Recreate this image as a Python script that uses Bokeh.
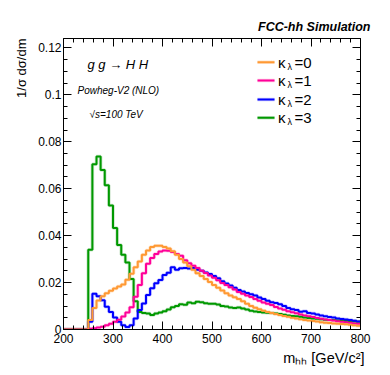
import numpy as np
from bokeh.plotting import figure
from bokeh.models import (Range1d, FixedTicker, CustomJSTickFormatter, LinearAxis,
                          Label, Title)
from bokeh.embed import file_html
from bokeh.resources import INLINE

# ---------------- data ----------------
x_min, x_max = 200.0, 800.0
n_bins = 72
bin_width = (x_max - x_min) / n_bins

labels = ["0", "1", "2", "3"]
colors = ["#FF9933", "#FF0099", "#0000FF", "#009900"]
halo = ["#FFCC99", "#FF99CC", "#9999FF", "#99CC99"]

kl0 = [0, 0, 0, 0, 0, 0,
       0.0040, 0.0092, 0.0124, 0.0142, 0.0155, 0.0165, 0.0175, 0.0183, 0.0192, 0.0212,
       0.0238, 0.0265, 0.0290, 0.0318, 0.0337, 0.0352, 0.0357, 0.0357, 0.0352, 0.0345,
       0.0333, 0.0318, 0.0300, 0.0285, 0.0270, 0.0255, 0.0240, 0.0228, 0.0215, 0.0202,
       0.0190, 0.0178, 0.0166, 0.0155, 0.0145, 0.0137, 0.0130, 0.0120, 0.0110, 0.0100,
       0.0093, 0.0086, 0.0080, 0.0075, 0.0070, 0.0066, 0.0062, 0.0058, 0.0054, 0.0050,
       0.0047, 0.0044, 0.0040, 0.0038, 0.0036, 0.0034, 0.0031, 0.0029, 0.0028, 0.0026,
       0.0024, 0.0023, 0.0022, 0.0020, 0.0018, 0.0016]
kl1 = [0, 0, 0, 0, 0, 0,
       0.0003, 0.0005, 0.0008, 0.0012, 0.0018, 0.0025, 0.0033, 0.0042, 0.0055, 0.0072,
       0.0095, 0.0140, 0.0190, 0.0240, 0.0280, 0.0305, 0.0322, 0.0332, 0.0337, 0.0336,
       0.0330, 0.0322, 0.0314, 0.0295, 0.0282, 0.0272, 0.0262, 0.0250, 0.0241, 0.0230,
       0.0220, 0.0210, 0.0198, 0.0190, 0.0180, 0.0170, 0.0160, 0.0152, 0.0145, 0.0138,
       0.0130, 0.0122, 0.0115, 0.0110, 0.0104, 0.0096, 0.0090, 0.0084, 0.0078, 0.0073,
       0.0069, 0.0064, 0.0060, 0.0056, 0.0053, 0.0049, 0.0046, 0.0043, 0.0040, 0.0038,
       0.0035, 0.0033, 0.0031, 0.0029, 0.0026, 0.0024]
kl2 = [0, 0, 0, 0, 0, 0,
       0.0033, 0.0152, 0.0142, 0.0125, 0.0097, 0.0075, 0.0051, 0.0033, 0.0018, 0.0011,
       0.0018, 0.0047, 0.0083, 0.0111, 0.0147, 0.0176, 0.0197, 0.0211, 0.0232, 0.0242,
       0.0265, 0.0255, 0.0261, 0.0262, 0.0260, 0.0262, 0.0255, 0.0250, 0.0243, 0.0236,
       0.0228, 0.0218, 0.0206, 0.0196, 0.0188, 0.0178, 0.0168, 0.0162, 0.0156, 0.0150,
       0.0145, 0.0136, 0.0130, 0.0122, 0.0116, 0.0113, 0.0108, 0.0100, 0.0092, 0.0086,
       0.0083, 0.0076, 0.0078, 0.0070, 0.0068, 0.0064, 0.0060, 0.0056, 0.0053, 0.0051,
       0.0047, 0.0045, 0.0043, 0.0040, 0.0037, 0.0034]
kl3 = [0, 0, 0, 0, 0, 0,
       0.0340, 0.0704, 0.0737, 0.0680, 0.0615, 0.0528, 0.0432, 0.0360, 0.0318, 0.0285,
       0.0215, 0.0120, 0.0075, 0.0070, 0.0068, 0.0062, 0.0068, 0.0072, 0.0078, 0.0085,
       0.0095, 0.0100, 0.0108, 0.0105, 0.0115, 0.0112, 0.0118, 0.0116, 0.0112, 0.0110,
       0.0110, 0.0106, 0.0100, 0.0098, 0.0094, 0.0092, 0.0094, 0.0090, 0.0085, 0.0080,
       0.0077, 0.0075, 0.0072, 0.0071, 0.0070, 0.0068, 0.0066, 0.0063, 0.0060, 0.0058,
       0.0056, 0.0054, 0.0051, 0.0049, 0.0047, 0.0046, 0.0044, 0.0042, 0.0040, 0.0040,
       0.0038, 0.0037, 0.0036, 0.0035, 0.0034, 0.0033]
series = [kl0, kl1, kl2, kl3]

x_ticks = [200, 300, 400, 500, 600, 700, 800]
y_ticks = [0, 0.02, 0.04, 0.06, 0.08, 0.1, 0.12]

# ---------------- layout ----------------
FONT = "Liberation Sans"
frame_l, frame_t, frame_w, frame_h = 63, 38, 297, 291  # canvas pixels
W, H = 382, 367
y_max = 0.124


def SX(px):
    return px - frame_l


def SY(py):
    return frame_t + frame_h - py


def X(px):
    return x_min + (px - frame_l) * (x_max - x_min) / frame_w


def Y(py):
    return y_max * (frame_t + frame_h - py) / frame_h


p = figure(width=W, height=H, output_backend="svg", toolbar_location=None,
           x_range=Range1d(x_min, x_max), y_range=Range1d(0, y_max),
           min_border_left=frame_l, min_border_top=frame_t,
           min_border_right=W - frame_l - frame_w,
           min_border_bottom=H - frame_t - frame_h)
p.outline_line_color = None
p.xgrid.visible = False
p.ygrid.visible = False
p.background_fill_color = "white"
p.border_fill_color = "white"

xt = FixedTicker(ticks=x_ticks, minor_ticks=list(range(200, 801, 20)))
yt = FixedTicker(ticks=y_ticks, minor_ticks=[i * 0.005 for i in range(25)])
yfmt = CustomJSTickFormatter(code="return tick == 0 ? '0' : String(+tick.toFixed(3));")
blank = CustomJSTickFormatter(code="return '';")


def style(ax, show):
    ax.axis_line_color = "black"
    ax.axis_line_width = 1
    ax.major_tick_in = 8
    ax.major_tick_out = 0
    ax.minor_tick_in = 4
    ax.minor_tick_out = 0
    ax.major_tick_line_color = "black"
    ax.minor_tick_line_color = "black"
    ax.major_label_text_font = FONT
    ax.major_label_text_font_size = "12px"
    ax.major_label_text_color = "black"
    if not show:
        ax.formatter = blank
        ax.major_label_standoff = 0


p.xaxis.ticker = xt
p.yaxis.ticker = yt
p.yaxis.formatter = yfmt
style(p.xaxis[0], True)
style(p.yaxis[0], True)
p.xaxis.major_label_standoff = 4
p.yaxis.major_label_standoff = 2

ax_r = LinearAxis(ticker=yt)
style(ax_r, False)
p.add_layout(ax_r, "right")
ax_t = LinearAxis(ticker=xt)
style(ax_t, False)
p.add_layout(ax_t, "above")

edges = x_min + bin_width * np.arange(n_bins + 1)
order = [3, 2, 1, 0]
for i in order:
    vals = list(series[i]) + [series[i][-1]]
    p.step(edges, vals, mode="after", line_color=halo[i], line_width=3.5, line_alpha=0.5)
for i in order:
    vals = list(series[i]) + [series[i][-1]]
    p.step(edges, vals, mode="after", line_color=colors[i], line_width=2)


def lab(px, py, text, size, style="normal", align="left", baseline="middle", angle=0.0):
    p.add_layout(Label(x=SX(px), y=SY(py), x_units="screen", y_units="screen", text=text,
                       text_font=FONT, text_font_size=size, text_font_style=style,
                       text_align=align, text_baseline=baseline, angle=angle,
                       text_color="black"))


# legend
rows = [61.7, 80.0, 99.0, 117.3]
for i, r in enumerate(rows):
    p.segment(x0=[X(257)], y0=[Y(r)], x1=[X(274)], y1=[Y(r)], line_color=halo[i],
              line_width=3.5, line_alpha=0.5)
    p.segment(x0=[X(257)], y0=[Y(r)], x1=[X(274)], y1=[Y(r)], line_color=colors[i], line_width=2)
    lab(277.5, r, "κ", "15px")
    lab(287, r + 4.5, "λ", "9px")
    lab(294, r, "=" + labels[i], "15px")

# texts inside the frame
lab(87, 63.5, "g g → H H", "13px", "italic")
lab(77, 89.5, "Powheg-V2 (NLO)", "10px", "italic")
lab(89, 113.5, "√s=100 TeV", "10px", "italic")

# texts outside the frame (side panels are not clipped)
p.add_layout(Title(text="FCC-hh Simulation", align="right", offset=-10, standoff=10,
                   text_font=FONT, text_font_size="12.5px", text_font_style="bold italic",
                   text_color="black"), "above")
p.add_layout(Title(text="mₕₕ [GeV/c²]", align="right", offset=-4, standoff=4,
                   text_font=FONT, text_font_size="14.5px", text_font_style="normal",
                   text_color="black"), "below")
p.add_layout(Title(text="1/σ dσ/dm", align="right", offset=0, standoff=14,
                   text_font=FONT, text_font_size="13px", text_font_style="normal",
                   text_color="black"), "left")

open("out.html", "w").write(file_html(p, INLINE))
